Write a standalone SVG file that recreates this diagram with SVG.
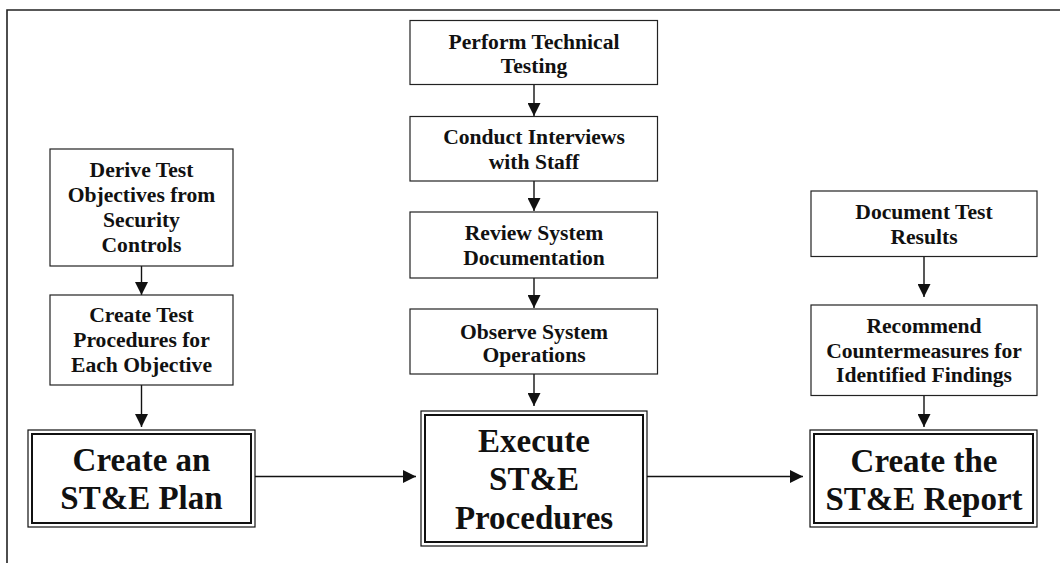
<svg xmlns="http://www.w3.org/2000/svg" width="1060" height="563" viewBox="0 0 1060 563">
<style>
.bx{fill:#fff;stroke:#222;stroke-width:1.2}
.bo{fill:#fff;stroke:#111;stroke-width:1.2}
.bi{fill:none;stroke:#111;stroke-width:2}
.t{font-family:"Liberation Serif","Times New Roman",serif;font-weight:bold;font-size:21.6px;fill:#111;text-anchor:middle}
.T{font-family:"Liberation Serif","Times New Roman",serif;font-weight:bold;font-size:33px;fill:#111;text-anchor:middle}
.c{stroke:#111;stroke-width:1.4;fill:none}
.frame{stroke:#222;stroke-width:1.6;fill:none}
</style>
<defs>
<marker id="ah" viewBox="0 0 13 13" refX="13" refY="6.5" markerWidth="13" markerHeight="13" markerUnits="userSpaceOnUse" orient="auto">
<path d="M0,0 L13,6.5 L0,13 Z" fill="#111"/>
</marker>
</defs>
<rect width="1060" height="563" fill="#fff"/>
<path class="frame" d="M7,563 L7,10 L1060,10"/>

<g id="connectors">
<line class="c" x1="141.5" y1="266" x2="141.5" y2="295" marker-end="url(#ah)"/>
<line class="c" x1="141.5" y1="385" x2="141.5" y2="427" marker-end="url(#ah)"/>
<line class="c" x1="534" y1="84" x2="534" y2="116" marker-end="url(#ah)"/>
<line class="c" x1="534" y1="181" x2="534" y2="211" marker-end="url(#ah)"/>
<line class="c" x1="534" y1="278" x2="534" y2="308" marker-end="url(#ah)"/>
<line class="c" x1="534" y1="374" x2="534" y2="406" marker-end="url(#ah)"/>
<line class="c" x1="924" y1="257" x2="924" y2="297" marker-end="url(#ah)"/>
<line class="c" x1="924" y1="396" x2="924" y2="427" marker-end="url(#ah)"/>
<line class="c" x1="255" y1="476.5" x2="416" y2="476.5" marker-end="url(#ah)"/>
<line class="c" x1="647" y1="476.5" x2="803" y2="476.5" marker-end="url(#ah)"/>
</g>

<g id="derive">
<rect class="bx" x="50" y="149" width="183" height="117"/>
<text class="t" x="141.5" y="177">Derive Test</text>
<text class="t" x="141.5" y="202">Objectives from</text>
<text class="t" x="141.5" y="227">Security</text>
<text class="t" x="141.5" y="252">Controls</text>
</g>
<g id="create-procedures">
<rect class="bx" x="50" y="295" width="183" height="90"/>
<text class="t" x="141.5" y="322">Create Test</text>
<text class="t" x="141.5" y="347">Procedures for</text>
<text class="t" x="141.5" y="372">Each Objective</text>
</g>
<g id="create-plan">
<rect class="bo" x="28" y="430" width="227" height="97"/>
<rect class="bi" x="32" y="434" width="219" height="89"/>
<text class="T" x="141.5" y="471">Create an</text>
<text class="T" x="141.5" y="508.5">ST&amp;E Plan</text>
</g>

<g id="perform">
<rect class="bx" x="410" y="20.5" width="247.5" height="64"/>
<text class="t" x="534" y="48.5">Perform Technical</text>
<text class="t" x="534" y="73">Testing</text>
</g>
<g id="interviews">
<rect class="bx" x="410" y="116.5" width="247.5" height="64.5"/>
<text class="t" x="534" y="143.5">Conduct Interviews</text>
<text class="t" x="534" y="168.5">with Staff</text>
</g>
<g id="review">
<rect class="bx" x="410" y="212" width="247.5" height="66"/>
<text class="t" x="534" y="240">Review System</text>
<text class="t" x="534" y="265">Documentation</text>
</g>
<g id="observe">
<rect class="bx" x="410" y="309" width="247.5" height="65"/>
<text class="t" x="534" y="338.5">Observe System</text>
<text class="t" x="534" y="362">Operations</text>
</g>
<g id="execute">
<rect class="bo" x="421" y="411" width="226" height="135"/>
<rect class="bi" x="425" y="415" width="218" height="127"/>
<text class="T" x="534" y="452">Execute</text>
<text class="T" x="534" y="490">ST&amp;E</text>
<text class="T" x="534" y="528.5">Procedures</text>
</g>

<g id="document">
<rect class="bx" x="811" y="191" width="226" height="65.5"/>
<text class="t" x="924" y="218.5">Document Test</text>
<text class="t" x="924" y="243.5">Results</text>
</g>
<g id="recommend">
<rect class="bx" x="811" y="305" width="226" height="90.5"/>
<text class="t" x="924" y="332.5">Recommend</text>
<text class="t" x="924" y="357.5">Countermeasures for</text>
<text class="t" x="924" y="382">Identified Findings</text>
</g>
<g id="report">
<rect class="bo" x="810" y="430" width="227" height="97"/>
<rect class="bi" x="814" y="434" width="219" height="89"/>
<text class="T" x="924" y="471.5">Create the</text>
<text class="T" x="924" y="509.5">ST&amp;E Report</text>
</g>
</svg>
